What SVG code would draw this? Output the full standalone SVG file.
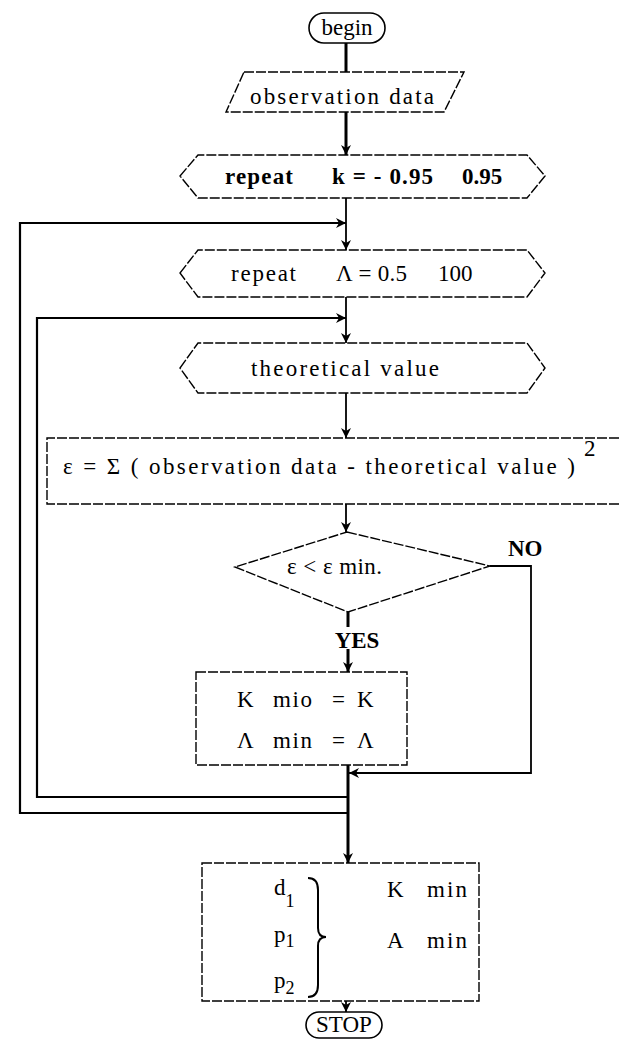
<svg xmlns="http://www.w3.org/2000/svg" width="619" height="1044" viewBox="0 0 619 1044">
<style>
  .shape { fill: none; stroke: #000; stroke-width: 1.4; stroke-dasharray: 10 2; }
  .term { fill: none; stroke: #000; stroke-width: 1.6; }
  .t { font-family: "Liberation Serif", "Times New Roman", serif; font-size: 23px; fill: #000; }
  .b { font-weight: bold; }
  .c { text-anchor: middle; }
  .ln { fill: none; stroke: #000; stroke-width: 1.8; }
  .loop { fill: none; stroke: #000; stroke-width: 2.2; }
  .thick { fill: none; stroke: #000; stroke-width: 3; }
</style>
<defs>
  <marker id="arr" markerWidth="10" markerHeight="12" refX="10" refY="6" orient="auto" markerUnits="userSpaceOnUse">
    <path d="M0,1 L10,6 L0,11 L3,6 Z" fill="#000"/>
  </marker>
</defs>
<rect width="619" height="1044" fill="#fff"/>

<g id="connectors">
  <line class="thick" x1="346" y1="43" x2="346" y2="72"/>
  <line class="thick" x1="346" y1="112" x2="346" y2="155" marker-end="url(#arr)"/>
  <line class="ln" x1="346" y1="198" x2="346" y2="250" marker-end="url(#arr)"/>
  <line class="ln" x1="346" y1="297" x2="346" y2="343" marker-end="url(#arr)"/>
  <line class="ln" x1="346" y1="393" x2="346" y2="438" marker-end="url(#arr)"/>
  <line class="ln" x1="346" y1="504" x2="346" y2="532" marker-end="url(#arr)"/>
  <line class="thick" x1="348" y1="612" x2="348" y2="672" marker-end="url(#arr)"/>
  <line class="thick" x1="348" y1="765" x2="348" y2="863" marker-end="url(#arr)"/>
  <line class="ln" x1="346" y1="1001" x2="346" y2="1012" marker-end="url(#arr)"/>
  <!-- NO branch -->
  <polyline class="ln" points="490,566 531,566 531,773 349,773" marker-end="url(#arr)"/>
  <!-- inner loop (A) -->
  <polyline class="loop" points="348,797 37,797 37,318 346,318" marker-end="url(#arr)"/>
  <!-- outer loop (k) -->
  <polyline class="loop" points="348,813 20,813 20,223 346,223" marker-end="url(#arr)"/>
</g>

<g id="begin">
  <rect class="term" x="309" y="13" width="76" height="30" rx="15"/>
  <text class="t c" x="347" y="35">begin</text>
</g>

<g id="input">
  <polygon class="shape" points="244,72 464,72 444,112 226,112"/>
  <text class="t" x="250" y="104" textLength="184" lengthAdjust="spacing">observation data</text>
</g>

<g id="repeat-k">
  <polygon class="shape" points="180,176 198,155 527,155 545,176 527,198 198,198"/>
  <text class="t b" x="225" y="184" textLength="68" lengthAdjust="spacing">repeat</text>
  <text class="t b" x="332" y="184" textLength="101" lengthAdjust="spacing">k = - 0.95</text>
  <text class="t b" x="462" y="184">0.95</text>
</g>

<g id="repeat-a">
  <polygon class="shape" points="180,273 198,250 527,250 545,273 527,297 198,297"/>
  <text class="t" x="231" y="281" textLength="65" lengthAdjust="spacing">repeat</text>
  <text class="t" x="336" y="281" textLength="71" lengthAdjust="spacing">Λ = 0.5</text>
  <text class="t" x="438" y="281">100</text>
</g>

<g id="theoretical">
  <polygon class="shape" points="180,368 198,343 527,343 545,368 527,393 198,393"/>
  <text class="t" x="251" y="376" textLength="188" lengthAdjust="spacing">theoretical value</text>
</g>

<g id="formula">
  <polyline class="shape" points="619,438 47,438 47,504 619,504"/>
  <text class="t" x="63" y="474" textLength="512" lengthAdjust="spacing">ε = Σ  ( observation data - theoretical value )</text>
  <text class="t" x="584" y="456">2</text>
</g>

<g id="decision">
  <polygon class="shape" points="347,532 490,566 348,612 235,567"/>
  <text class="t" x="287" y="574" font-size="20" textLength="95" lengthAdjust="spacing">ε &lt; ε min.</text>
  <text class="t b" x="508" y="556">NO</text>
  <rect x="338" y="627" width="38" height="22" fill="#fff"/>
  <text class="t b c" x="357" y="648">YES</text>
</g>

<g id="update">
  <rect class="shape" x="196" y="672" width="211" height="93"/>
  <text class="t" x="237" y="707">K</text>
  <text class="t" x="273" y="707" textLength="39" lengthAdjust="spacing">mio</text>
  <text class="t" x="332" y="707">=</text>
  <text class="t" x="357" y="707">K</text>
  <text class="t" x="237" y="748">Λ</text>
  <text class="t" x="273" y="748" textLength="39" lengthAdjust="spacing">min</text>
  <text class="t" x="332" y="748">=</text>
  <text class="t" x="357" y="748">Λ</text>
</g>

<g id="output">
  <rect class="shape" x="202" y="863" width="277" height="138"/>
  <text class="t" x="274" y="895">d<tspan font-size="18" dy="12">1</tspan></text>
  <text class="t" x="274" y="942">p<tspan font-size="18" dy="5">1</tspan></text>
  <text class="t" x="274" y="988">p<tspan font-size="18" dy="6">2</tspan></text>
  <path d="M308,878 Q318,878 318,890 L318,928 Q318,937 326,937 Q318,937 318,946 L318,985 Q318,997 308,997" fill="none" stroke="#000" stroke-width="2"/>
  <text class="t" x="387" y="897">K</text>
  <text class="t" x="427" y="897" textLength="40" lengthAdjust="spacing">min</text>
  <text class="t" x="387" y="948">A</text>
  <text class="t" x="427" y="948" textLength="40" lengthAdjust="spacing">min</text>
</g>

<g id="stop">
  <rect class="term" x="306" y="1012" width="76" height="26" rx="13"/>
  <text class="t c" x="344" y="1032" font-size="20">STOP</text>
</g>
</svg>
